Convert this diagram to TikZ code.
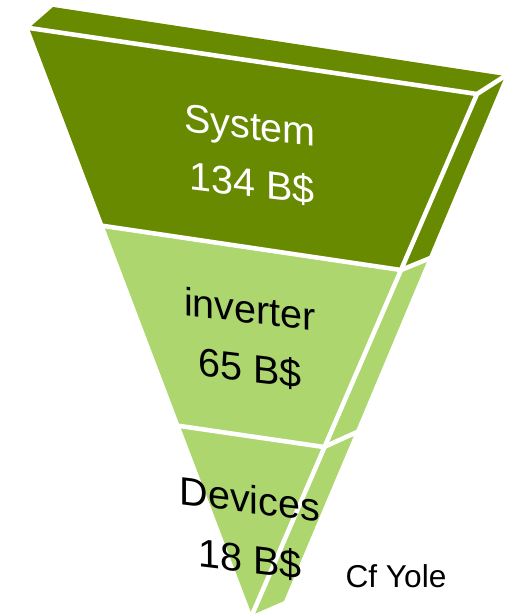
\documentclass[tikz,border=0pt]{standalone}
\usepackage{fontspec}
\setmainfont{Liberation Sans}
\usetikzlibrary{calc}
\definecolor{darkg}{RGB}{104,138,0}
\definecolor{lightg}{RGB}{173,214,110}
\begin{document}
\begin{tikzpicture}[x=0.02cm,y=-0.02cm,
  gap/.style={white,line width=2.6pt,line cap=butt,line join=miter},
  lbl/.style={anchor=base,font=\fontsize{22.5}{26}\selectfont,inner sep=0pt,yslant=-0.12}]
\useasboundingbox (0,0) rectangle (506,616);
% corners
\coordinate (F) at (53,7);
\coordinate (D) at (505,76);
\coordinate (A) at (29,28);
\coordinate (B) at (477,94);
\coordinate (C) at (252,615);
\coordinate (E) at (284,601);
\coordinate (L1) at (104,226);
\coordinate (R1) at (401,270);
\coordinate (K1) at (428,259);
\coordinate (L2) at (180,426);
\coordinate (R2) at (324,447);
\coordinate (K2) at (355,433);
% faces
\fill[darkg] (F) -- (D) -- (B) -- (A) -- cycle;
\fill[darkg] (A) -- (B) -- (R1) -- (L1) -- cycle;
\fill[darkg] (B) -- (D) -- (K1) -- (R1) -- cycle;
\fill[lightg] (L1) -- (R1) -- (R2) -- (L2) -- cycle;
\fill[lightg] (R1) -- (K1) -- (K2) -- (R2) -- cycle;
\fill[lightg] (L2) -- (R2) -- (C) -- cycle;
\fill[lightg] (R2) -- (K2) -- (E) -- (C) -- cycle;
% white gaps
\draw[gap] ($(A)!-0.02!(B)$) -- (B) -- (D);
\draw[gap] (B) -- (C);
\draw[gap] ($(L1)!-0.03!(R1)$) -- (R1) -- ($(R1)!1.1!(K1)$);
\draw[gap] ($(L2)!-0.04!(R2)$) -- (R2) -- ($(R2)!1.1!(K2)$);
% labels
\node[lbl,text=white] (sys) at (250,139) {System};
\node[lbl,text=white] (sysv) at (252,197) {134 B\$};
\node[lbl] (inv) at (250,323) {inverter};
\node[lbl] (invv) at (250,382) {65 B\$};
\node[lbl] (dev) at (250,513) {Devices};
\node[lbl] (devv) at (250,573) {18 B\$};
\node[anchor=base,font=\fontsize{18}{21}\selectfont,inner sep=0pt] (src) at (396,587) {Cf Yole};
\end{tikzpicture}
\end{document}
